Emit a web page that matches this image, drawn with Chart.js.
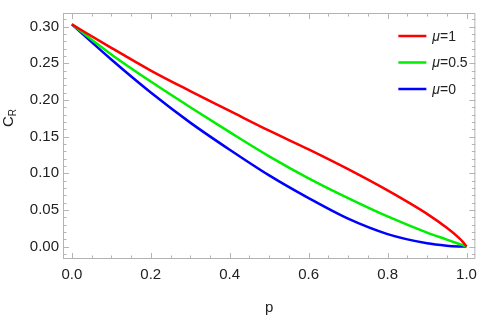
<!DOCTYPE html>
<html>
<head>
<meta charset="utf-8">
<script src="https://cdn.jsdelivr.net/npm/chart.js@4.4.0/dist/chart.umd.min.js"></script>
<style>
html, body { margin: 0; padding: 0; background: #fff; }
</style>
</head>
<body>
<canvas id="chart" width="484" height="316"></canvas>
<script>
// values
const pValues = [0, 0.1, 0.2, 0.3, 0.4, 0.5, 0.6, 0.7, 0.8, 0.9, 0.95, 0.98, 0.99, 1];
const crMu1  = [0.303, 0.271, 0.240, 0.212, 0.185, 0.158, 0.1325, 0.1055, 0.0765, 0.0445, 0.0255, 0.0122, 0.0068, 0];
const crMu05 = [0.303, 0.262, 0.225, 0.190, 0.156, 0.123, 0.093, 0.066, 0.041, 0.019, 0.0095, 0.0038, 0.0019, 0];
const crMu0  = [0.303, 0.255, 0.210, 0.169, 0.132, 0.097, 0.066, 0.038, 0.017, 0.0045, 0.0012, 0.0002, 0.00005, 0];
const muLabels = ['1', '0.5', '0'];
const lineColors = ['#ff0000', '#00ee00', '#0000ff'];
const xTicks = [0, 0.2, 0.4, 0.6, 0.8, 1.0];
const yTicks = [0, 0.05, 0.10, 0.15, 0.20, 0.25, 0.30];

const FONT = '"Liberation Sans", Arial, sans-serif';
const frameColor = '#b4b4b4';

function toPoints(ys) {
    return pValues.map((p, i) => ({ x: p, y: ys[i] }));
}

// Mathematica-like frame: ticks pointing inwards on all four sides
const framePlugin = {
    id: 'frame',
    beforeDatasetsDraw(chart) {
        const { ctx, chartArea: a, scales } = chart;
        const xs = scales.x, ys = scales.y;
        ctx.save();
        ctx.strokeStyle = frameColor;
        ctx.lineWidth = 1;
        ctx.strokeRect(a.left + 0.5, a.top + 0.5, a.right - a.left - 1, a.bottom - a.top - 1);
        ctx.beginPath();
        for (let i = 0; i <= 20; i++) {
            const v = i * 0.05;
            const len = (i % 4 === 0) ? 6 : 3.5;
            const px = Math.round(xs.getPixelForValue(v)) + 0.5;
            ctx.moveTo(px, a.bottom); ctx.lineTo(px, a.bottom - len);
            ctx.moveTo(px, a.top); ctx.lineTo(px, a.top + len);
        }
        for (let i = -1; i <= 31; i++) {
            const v = i * 0.01;
            if (v < ys.min || v > ys.max) continue;
            const len = (i % 5 === 0) ? 6 : 3.5;
            const py = Math.round(ys.getPixelForValue(v)) + 0.5;
            ctx.moveTo(a.left, py); ctx.lineTo(a.left + len, py);
            ctx.moveTo(a.right, py); ctx.lineTo(a.right - len, py);
        }
        ctx.stroke();
        ctx.restore();
    },
    afterDraw(chart) {
        const { ctx, chartArea: a } = chart;
        ctx.save();
        ctx.fillStyle = '#222';
        // x title
        ctx.font = '15px ' + FONT;
        ctx.textAlign = 'center';
        ctx.textBaseline = 'alphabetic';
        ctx.fillText('p', (a.left + a.right) / 2, 312);
        // y title C_R, rotated
        ctx.translate(13, 118);
        ctx.rotate(-Math.PI / 2);
        ctx.textAlign = 'left';
        ctx.font = '15px ' + FONT;
        const cw = ctx.measureText('C').width;
        ctx.font = '10px ' + FONT;
        const rw = ctx.measureText('R').width;
        const start = -(cw + rw) / 2;
        ctx.font = '15px ' + FONT;
        ctx.fillText('C', start, 0);
        ctx.font = '10px ' + FONT;
        ctx.fillText('R', start + cw, 3);
        ctx.restore();

        // legend
        ctx.save();
        const lx0 = a.right - 77, lx1 = a.right - 49, tx = a.right - 43;
        muLabels.forEach((lab, i) => {
            const y = a.top + 23 + i * 26.5;
            ctx.strokeStyle = lineColors[i];
            ctx.lineWidth = 2.5;
            ctx.beginPath();
            ctx.moveTo(lx0, y); ctx.lineTo(lx1, y);
            ctx.stroke();
            ctx.fillStyle = '#222';
            ctx.textBaseline = 'middle';
            ctx.textAlign = 'left';
            ctx.font = 'italic 14px ' + FONT;
            ctx.fillText('\u03bc', tx, y + 1);
            const mw = ctx.measureText('\u03bc').width;
            ctx.font = '14px ' + FONT;
            ctx.fillText('=' + lab, tx + mw, y + 1);
        });
        ctx.restore();
    }
};

const datasets = [crMu1, crMu05, crMu0].map((vals, i) => ({
    label: '\u03bc=' + muLabels[i],
    data: toPoints(vals),
    borderColor: lineColors[i],
    backgroundColor: lineColors[i],
    borderWidth: 2.5,
    pointRadius: 0,
    showLine: true,
    cubicInterpolationMode: 'monotone'
}));

const ctx = document.getElementById('chart').getContext('2d');
const chart = new Chart(ctx, {
    type: 'scatter',
    data: { datasets: datasets },
    options: {
        responsive: false,
        animation: false,
        devicePixelRatio: 1,
        layout: { padding: { top: 1, right: 3, left: 0, bottom: 0 } },
        plugins: {
            legend: { display: false },
            tooltip: { enabled: false }
        },
        scales: {
            x: {
                type: 'linear',
                min: -0.0224,
                max: 1.0224,
                grid: { display: false, drawTicks: false },
                border: { display: false },
                afterBuildTicks: (s) => { s.ticks = xTicks.map(v => ({ value: v })); },
                afterFit: (s) => { s.height = 57; },
                ticks: {
                    padding: 7,
                    color: '#222',
                    font: { family: FONT, size: 15 },
                    maxRotation: 0,
                    callback: (v) => Number(v).toFixed(1)
                }
            },
            y: {
                type: 'linear',
                min: -0.017,
                max: 0.3185,
                grid: { display: false, drawTicks: false },
                border: { display: false },
                afterBuildTicks: (s) => { s.ticks = yTicks.map(v => ({ value: v })); },
                afterFit: (s) => { s.width = 63; },
                ticks: {
                    padding: 4,
                    color: '#222',
                    font: { family: FONT, size: 15 },
                    callback: (v) => Number(v).toFixed(2)
                }
            }
        }
    },
    plugins: [framePlugin]
});
</script>
</body>
</html>
